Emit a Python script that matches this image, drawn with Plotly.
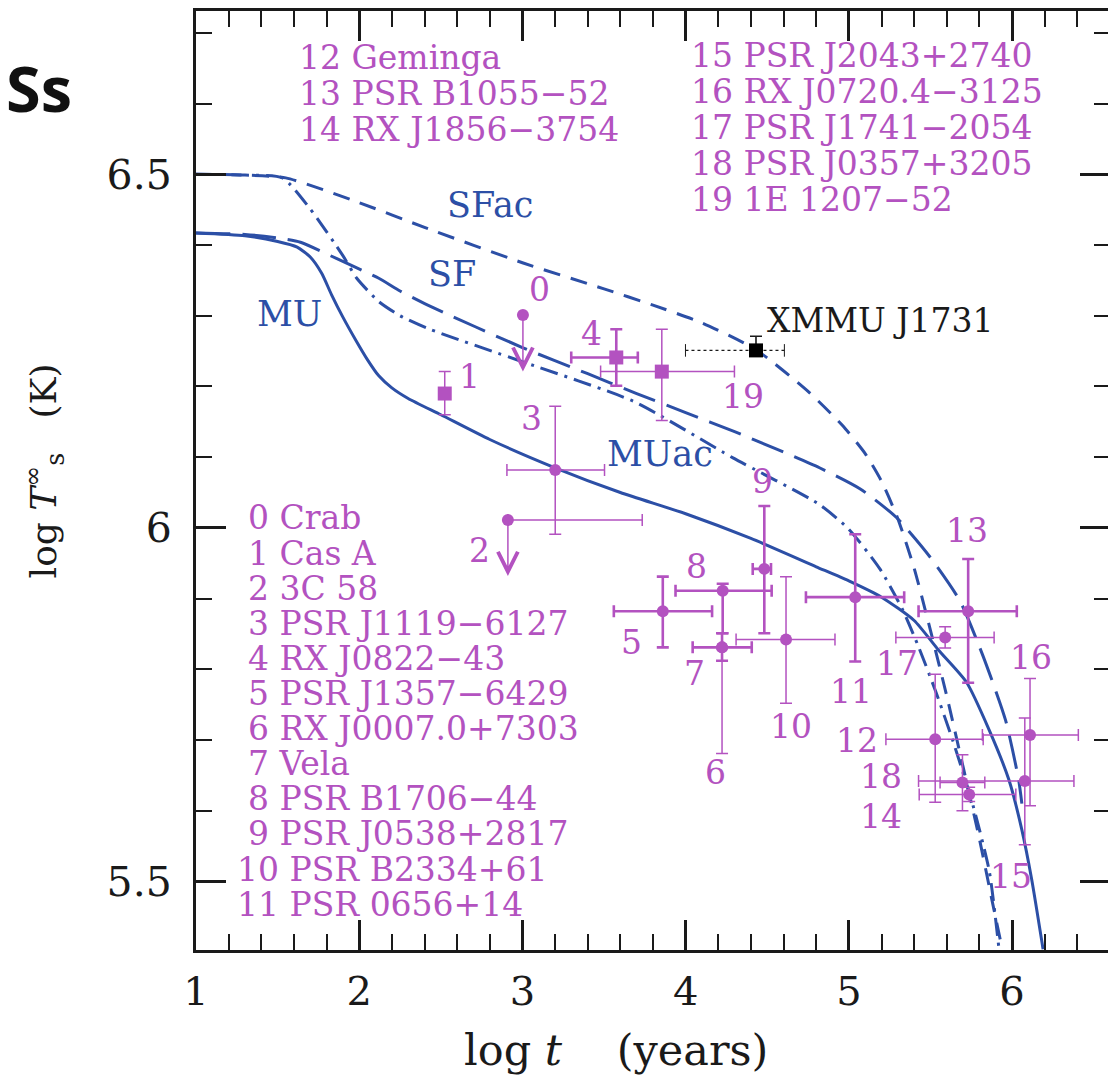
import plotly.graph_objects as go

BLUE = "#2c4fa6"
MAG = "#b352c0"
INK = "#1a1a1a"

# ---------------- cooling curves (log t [yr], log Ts [K]) ----------------
mu_t = [1.0, 1.3, 1.5, 1.62, 1.7, 1.77, 1.83, 1.9, 1.98, 2.05, 2.12, 2.2, 2.3, 2.5,
        2.8, 3.2, 3.6, 4.0, 4.4, 4.8, 5.0, 5.2, 5.4, 5.55, 5.72, 5.86, 5.98, 6.06,
        6.12, 6.19]
mu_T = [6.417, 6.413, 6.405, 6.397, 6.383, 6.36, 6.33, 6.298, 6.265, 6.238, 6.215,
        6.198, 6.183, 6.16, 6.125, 6.085, 6.05, 6.02, 5.985, 5.945, 5.925, 5.902,
        5.869, 5.827, 5.782, 5.714, 5.644, 5.573, 5.503, 5.404]

sf_t = [1.0, 1.3, 1.5, 1.64, 1.86, 2.12, 2.25, 2.42, 3.0, 3.4, 3.7, 4.0, 4.3,
        4.55, 4.82, 5.07, 5.29, 5.5, 5.68, 5.82, 5.96, 6.04, 6.06]
sf_T = [6.417, 6.415, 6.41, 6.404, 6.381, 6.353, 6.335, 6.315, 6.255, 6.218, 6.19,
        6.163, 6.136, 6.112, 6.085, 6.055, 6.015, 5.958, 5.897, 5.82, 5.728, 5.644, 5.61]

sfac_t = [1.0, 1.3, 1.55, 2.0, 2.4, 3.0, 3.5, 3.8, 4.1, 4.43, 4.75, 4.96, 5.1,
          5.2, 5.3, 5.4, 5.5, 5.6, 5.7, 5.8, 5.88, 5.94]
sfac_T = [6.5, 6.499, 6.495, 6.46, 6.425, 6.375, 6.338, 6.315, 6.29, 6.252, 6.193,
          6.145, 6.105, 6.066, 6.013, 5.943, 5.855, 5.762, 5.662, 5.56, 5.47, 5.404]

muac_t = [1.0, 1.3, 1.53, 1.7, 1.9, 1.985, 2.12, 2.25, 2.42, 3.0, 3.68, 4.29, 4.82,
          5.0, 5.19, 5.33, 5.43, 5.53, 5.64, 5.76, 5.86, 5.92]
muac_T = [6.5, 6.499, 6.495, 6.451, 6.385, 6.353, 6.32, 6.3, 6.282, 6.235, 6.179,
          6.099, 6.033, 5.998, 5.942, 5.884, 5.83, 5.77, 5.697, 5.608, 5.515, 5.404]

# ---------------- observed sources ----------------
src_id = list(range(20))
src_name = ["Crab", "Cas A", "3C 58", "PSR J1119\u22126127", "RX J0822\u221243",
            "PSR J1357\u22126429", "RX J0007.0+7303", "Vela", "PSR B1706\u221244",
            "PSR J0538+2817", "PSR B2334+61", "PSR 0656+14", "Geminga",
            "PSR B1055\u221252", "RX J1856\u22123754", "PSR J2043+2740",
            "RX J0720.4\u22123125", "PSR J1741\u22122054", "PSR J0357+3205",
            "1E 1207\u221252"]
src_logt = [3.003, 2.524, 2.911, 3.201, 3.575, 3.86, 4.223, 4.223, 4.227, 4.482,
            4.615, 5.039, 5.529, 5.731, 5.737, 6.078, 6.11, 5.59, 5.696, 3.854]
src_logT = [6.301, 6.19, 6.011, 6.082, 6.241, 5.882, 5.831, 5.831, 5.911, 5.942,
            5.842, 5.902, 5.701, 5.882, 5.623, 5.642, 5.707, 5.845, 5.64, 6.221]
src_t_lo = [3.003, 2.524, 2.911, 2.905, 3.299, 3.56, 4.223, 4.043, 3.938, 4.411,
            4.309, 4.737, 5.227, 5.427, 5.431, 5.427, 5.818, 5.288, 5.559, 3.479]
src_t_hi = [3.003, 2.524, 3.734, 3.503, 3.707, 4.162, 4.223, 4.405, 4.527, 4.523,
            4.915, 5.339, 5.823, 6.029, 6.023, 6.379, 6.406, 5.89, 5.833, 4.299]
src_T_lo = [6.221, 6.16, 5.932, 5.991, 6.201, 5.831, 5.681, 5.812, 5.851, 5.851,
            5.752, 5.811, 5.612, 5.781, 5.613, 5.552, 5.607, 5.83, 5.6, 6.152]
src_T_hi = [6.301, 6.221, 6.011, 6.172, 6.281, 5.931, 5.851, 5.851, 5.921, 6.031,
            5.931, 5.991, 5.793, 5.956, 5.633, 5.731, 5.787, 5.86, 5.679, 6.281]
upper_limit_ids = [0, 2]
square_ids = [1, 4, 19]
thick_ids = [4, 5, 7, 8, 9, 11, 13]

# XMMU J1731
xmmu_logt, xmmu_logT = 4.431, 6.251
xmmu_t_lo, xmmu_t_hi = 3.999, 4.605
xmmu_T_hi = 6.271

fig = go.Figure()

# curves
curve_specs = [
    (mu_t, mu_T, "solid"),
    (sf_t, sf_T, "34px,12px"),
    (sfac_t, sfac_T, "17px,11px"),
    (muac_t, muac_T, "18px,7px,3px,7px"),
]
for xs, ys, dash in curve_specs:
    fig.add_trace(go.Scatter(x=xs, y=ys, mode="lines",
                             line=dict(color=BLUE, width=3, dash=dash,
                                       shape="spline", smoothing=0.6),
                             hoverinfo="skip", showlegend=False))


def add_group(ids, symbol, thick):
    if not ids:
        return
    xs = [src_logt[i] for i in ids]
    ys = [src_logT[i] for i in ids]
    ex_p = [src_t_hi[i] - src_logt[i] for i in ids]
    ex_m = [src_logt[i] - src_t_lo[i] for i in ids]
    ey_p = [src_T_hi[i] - src_logT[i] for i in ids]
    ey_m = [src_logT[i] - src_T_lo[i] for i in ids]
    th = 2.6 if thick else 1.5
    fig.add_trace(go.Scatter(
        x=xs, y=ys, mode="markers",
        marker=dict(symbol=symbol, size=14 if symbol == "square" else 12, color=MAG,
                    line=dict(width=0)),
        error_x=dict(type="data", symmetric=False, array=ex_p, arrayminus=ex_m,
                     color=MAG, thickness=th, width=6),
        error_y=dict(type="data", symmetric=False, array=ey_p, arrayminus=ey_m,
                     color=MAG, thickness=th, width=6),
        hoverinfo="skip", showlegend=False))


normal = [i for i in src_id if i not in upper_limit_ids]
for sym in ["circle", "square"]:
    for thick in [False, True]:
        ids = [i for i in normal
               if ((i in square_ids) == (sym == "square")) and ((i in thick_ids) == thick)]
        add_group(ids, sym, thick)

# upper limits: dot + (optional) horizontal range + downward arrow
for i in upper_limit_ids:
    fig.add_trace(go.Scatter(
        x=[src_logt[i]], y=[src_logT[i]], mode="markers",
        marker=dict(symbol="circle", size=12, color=MAG),
        error_x=dict(type="data", symmetric=False,
                     array=[src_t_hi[i] - src_logt[i]],
                     arrayminus=[src_logt[i] - src_t_lo[i]],
                     color=MAG, thickness=1.5, width=6, visible=src_t_hi[i] > src_logt[i]),
        hoverinfo="skip", showlegend=False))
    fig.add_annotation(x=src_logt[i], y=src_T_lo[i], ax=src_logt[i], ay=src_logT[i],
                       xref="x", yref="y", axref="x", ayref="y", text="",
                       showarrow=True, arrowhead=5, arrowsize=2.6, arrowwidth=1.5,
                       arrowcolor=MAG, standoff=0, startstandoff=0)

# XMMU J1731
fig.add_trace(go.Scatter(x=[xmmu_t_lo, xmmu_t_hi], y=[xmmu_logT, xmmu_logT],
                         mode="lines+markers",
                         line=dict(color=INK, width=1.3, dash="dot"),
                         marker=dict(symbol="line-ns", size=9,
                                     line=dict(color=INK, width=1)),
                         hoverinfo="skip", showlegend=False))
fig.add_trace(go.Scatter(x=[xmmu_logt], y=[xmmu_logT], mode="markers",
                         marker=dict(symbol="square", size=14, color="black"),
                         error_y=dict(type="data", symmetric=False,
                                      array=[xmmu_T_hi - xmmu_logT], arrayminus=[0],
                                      color=INK, thickness=1.6, width=6),
                         hoverinfo="skip", showlegend=False))

SERIF = "DejaVu Serif"

# point number labels
label_pos = {0: (3.105, 6.337), 1: (2.677, 6.214), 2: (2.738, 5.968), 3: (3.054, 6.155),
             4: (3.421, 6.275), 5: (3.667, 5.838), 6: (4.182, 5.654), 7: (4.054, 5.794),
             8: (4.064, 5.946), 9: (4.472, 6.066), 10: (4.646, 5.719), 11: (5.013, 5.768),
             12: (5.051, 5.700), 13: (5.725, 5.996), 14: (5.196, 5.592), 15: (5.992, 5.507),
             16: (6.114, 5.817), 17: (5.296, 5.808), 18: (5.196, 5.648), 19: (4.35, 6.186)}
for i in src_id:
    lx, ly = label_pos[i]
    fig.add_annotation(x=lx, y=ly, xref="x", yref="y", text=str(i), showarrow=False,
                       font=dict(family=SERIF, size=33, color=MAG))

# source name lists
lists = [
    (list(range(0, 10)), 1.312, 6.014, -0.0496),
    ([10, 11], 1.245, 5.517, -0.0496),
    ([12, 13, 14], 1.624, 6.665, -0.0509),
    ([15, 16, 17, 18, 19], 4.029, 6.668, -0.0508),
]
for ids, x0, y0, dy in lists:
    for k, i in enumerate(ids):
        fig.add_annotation(x=x0, y=y0 + k * dy, xref="x", yref="y", xanchor="left",
                           yanchor="middle", borderpad=0,
                           text=f"{src_id[i]} {src_name[i]}", showarrow=False,
                           font=dict(family=SERIF, size=33, color=MAG))

# curve labels
for txt, lx, ly in [("SFac", 2.799, 6.456), ("SF", 2.567, 6.359),
                    ("MU", 1.575, 6.303), ("MUac", 3.84, 6.104)]:
    fig.add_annotation(x=lx, y=ly, xref="x", yref="y", text=txt, showarrow=False,
                       font=dict(family=SERIF, size=35, color=BLUE))

fig.add_annotation(x=4.488, y=6.293, xref="x", yref="y", xanchor="left",
                   yanchor="middle", text="XMMU J1731", showarrow=False,
                   font=dict(family=SERIF, size=33, color=INK))

# axis titles
fig.add_annotation(x=0.46, y=-0.106, xref="paper", yref="paper", xanchor="center",
                   yanchor="middle",
                   text="log\u00a0<i>t</i>\u00a0\u00a0\u00a0\u00a0(years)", showarrow=False,
                   font=dict(family=SERIF, size=43, color=INK))
fig.add_annotation(x=-0.166, y=0.51, xref="paper", yref="paper", textangle=-90,
                   xanchor="center", yanchor="middle",
                   text="log\u00a0<i>T</i><sup>\u221e</sup><sub>s</sub>\u00a0\u00a0\u00a0(K)",
                   showarrow=False, font=dict(family=SERIF, size=36, color=INK))

# stray heading fragment at top-left
fig.add_annotation(x=-0.2105, y=0.918, xref="paper", yref="paper", xanchor="left",
                   yanchor="middle", text="<b>Ss</b>", showarrow=False,
                   font=dict(family="Open Sans", size=63, color="#111111"))

axis_common = dict(showgrid=False, zeroline=False, showline=True, linecolor=INK,
                   linewidth=3, mirror="allticks", ticks="inside", ticklen=30,
                   tickwidth=2.5, tickcolor=INK)

fig.update_xaxes(range=[1, 6.6], tickmode="array", tickvals=[1, 2, 3, 4, 5, 6],
                 ticktext=["1", "2", "3", "4", "5", "6"], ticklabelstandoff=4,
                 tickfont=dict(family=SERIF, size=40, color=INK),
                 minor=dict(ticks="inside", ticklen=16, tickwidth=2, tickcolor=INK,
                            dtick=0.2, tick0=1, showgrid=False),
                 **axis_common)
fig.update_yaxes(range=[5.403, 6.731], tickmode="array", tickvals=[5.5, 6, 6.5],
                 ticktext=["5.5", "6", "6.5"], ticklabelstandoff=13,
                 tickfont=dict(family=SERIF, size=41, color=INK),
                 minor=dict(ticks="inside", ticklen=16, tickwidth=2, tickcolor=INK,
                            dtick=0.1, tick0=5.4, showgrid=False),
                 **axis_common)

fig.update_layout(width=1116, height=1085, plot_bgcolor="white", paper_bgcolor="white",
                  margin=dict(l=188, r=14, t=0, b=143), showlegend=False)

fig.write_html("out.html")
